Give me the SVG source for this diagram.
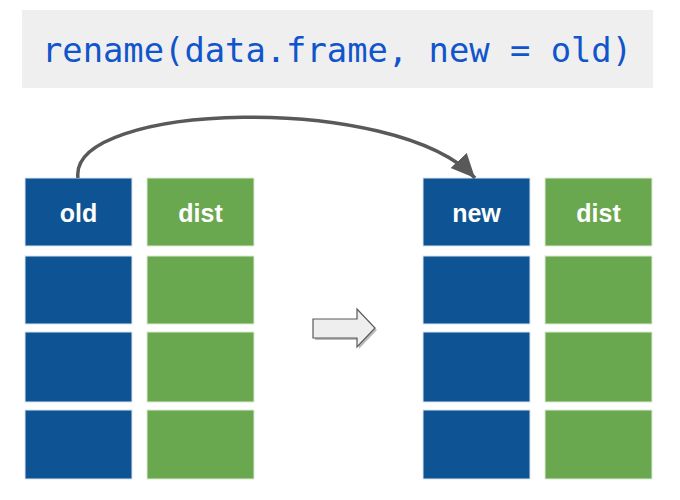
<svg xmlns="http://www.w3.org/2000/svg" width="680" height="500" viewBox="0 0 680 500">
<style>
.blue{fill:#0e5394;stroke:#dbe6f2;stroke-width:1}
.green{fill:#6aa84f;stroke:#dcebd5;stroke-width:1}
.lbl{font-family:"Liberation Sans",Arial,sans-serif;font-weight:bold;font-size:25px;fill:#ffffff;text-anchor:middle}
.code{font-family:"DejaVu Sans Mono",monospace;font-size:33.8px;fill:#1155cc}
.conn{fill:none;stroke:#595959;stroke-width:3.5}
</style>
<defs>
<marker id="ah" markerUnits="userSpaceOnUse" markerWidth="28" markerHeight="28" refX="24" refY="11" orient="auto">
<path d="M0,0 L24,11 L0,22 Z" fill="#595959"/>
</marker>
</defs>
<rect width="680" height="500" fill="#ffffff"/>
<g id="title">
<rect x="22" y="10" width="631" height="78" fill="#efefef"/>
<text class="code" x="337" y="62" text-anchor="middle">rename(data.frame, new = old)</text>
</g>
<g id="left-old">
<rect class="blue" x="25" y="178" width="107" height="68"/>
<text class="lbl" x="78.5" y="222">old</text>
<rect class="blue" x="25" y="256" width="107" height="68"/>
<rect class="blue" x="25" y="332" width="107" height="70"/>
<rect class="blue" x="25" y="410" width="107" height="69"/>
</g>
<g id="left-dist">
<rect class="green" x="147" y="178" width="107" height="68"/>
<text class="lbl" x="200.5" y="222">dist</text>
<rect class="green" x="147" y="256" width="107" height="68"/>
<rect class="green" x="147" y="332" width="107" height="70"/>
<rect class="green" x="147" y="410" width="107" height="69"/>
</g>
<g id="right-new">
<rect class="blue" x="423" y="178" width="107" height="68"/>
<text class="lbl" x="476.5" y="222">new</text>
<rect class="blue" x="423" y="256" width="107" height="68"/>
<rect class="blue" x="423" y="332" width="107" height="70"/>
<rect class="blue" x="423" y="410" width="107" height="69"/>
</g>
<g id="right-dist">
<rect class="green" x="545" y="178" width="107" height="68"/>
<text class="lbl" x="598.5" y="222">dist</text>
<rect class="green" x="545" y="256" width="107" height="68"/>
<rect class="green" x="545" y="332" width="107" height="70"/>
<rect class="green" x="545" y="410" width="107" height="69"/>
</g>
<g id="block-arrow">
<path d="M315,321 L359,321 L359,311 L377,330 L359,349 L359,340 L315,340 Z" fill="#777777" opacity="0.5"/>
<path d="M313,319 L357,319 L357,309 L375,328 L357,347 L357,338 L313,338 Z" fill="#eeeeee" stroke="#595959" stroke-width="1.2"/>
</g>
<g id="connectors">
<path class="conn" d="M78,178 C68,102 395,92 475,178" marker-end="url(#ah)"/>
</g>
</svg>
